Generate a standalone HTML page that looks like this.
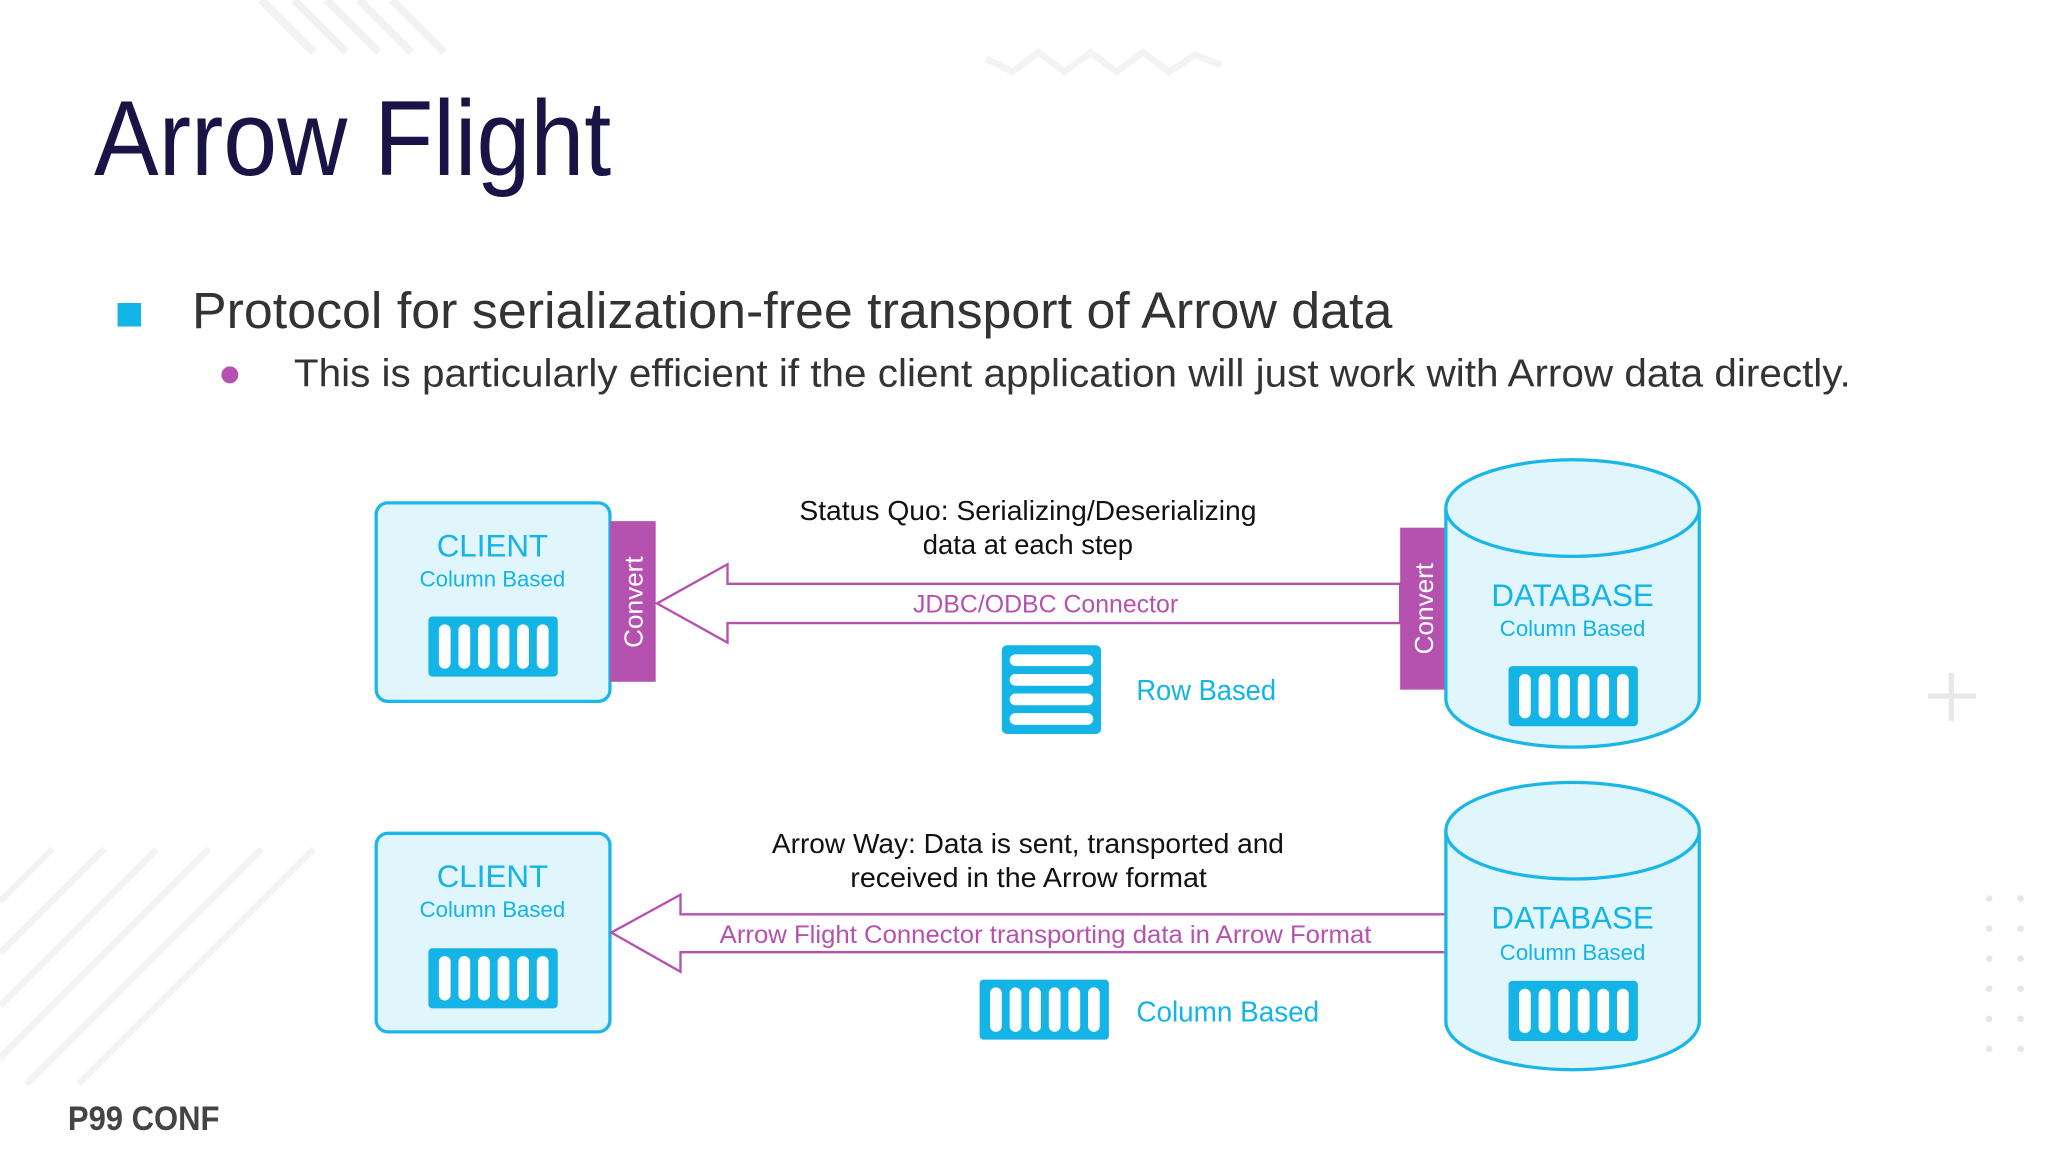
<!DOCTYPE html>
<html><head><meta charset="utf-8"><style>
html,body{margin:0;padding:0;background:#fff;}
svg{display:block;}
text{font-family:"Liberation Sans",sans-serif;}
</style></head><body>
<svg width="2048" height="1152" viewBox="0 0 1568 882" xmlns="http://www.w3.org/2000/svg">
<rect width="1568" height="882" fill="#fff"/>
<g stroke="#f2f2f2" stroke-width="6">
<line x1="200" y1="0" x2="240" y2="40"/><line x1="225" y1="0" x2="265" y2="40"/><line x1="250" y1="0" x2="290" y2="40"/><line x1="275" y1="0" x2="315" y2="40"/><line x1="300" y1="0" x2="340" y2="40"/>
</g>
<g stroke="#f3f3f3" stroke-width="5">
<line x1="0" y1="690" x2="40" y2="650"/><line x1="0" y1="730" x2="80" y2="650"/><line x1="0" y1="770" x2="120" y2="650"/><line x1="0" y1="810" x2="160" y2="650"/><line x1="20" y1="830" x2="200" y2="650"/><line x1="60" y1="830" x2="240" y2="650"/>
</g>
<polyline points="755,45 775,55 795,40 815,55 835,40 855,55 875,40 895,55 915,42 935,50" fill="none" stroke="#f3f3f3" stroke-width="5"/>
<g stroke="#e8e8e8" stroke-width="4"><line x1="1494" y1="515" x2="1494" y2="552"/><line x1="1476" y1="533" x2="1513" y2="533"/></g>
<g fill="#e6e6e6">
<circle cx="1523" cy="688" r="2.5"/><circle cx="1547" cy="688" r="2.5"/><circle cx="1523" cy="711" r="2.5"/><circle cx="1547" cy="711" r="2.5"/><circle cx="1523" cy="734" r="2.5"/><circle cx="1547" cy="734" r="2.5"/><circle cx="1523" cy="757" r="2.5"/><circle cx="1547" cy="757" r="2.5"/><circle cx="1523" cy="780" r="2.5"/><circle cx="1547" cy="780" r="2.5"/><circle cx="1523" cy="803" r="2.5"/><circle cx="1547" cy="803" r="2.5"/>
</g>

<text x="72" y="134" font-size="82" fill="#1a1446" textLength="396" lengthAdjust="spacingAndGlyphs">Arrow Flight</text>
<rect x="90" y="232" width="18" height="18" fill="#13b4e6"/>
<text x="147" y="251" font-size="39" fill="#333" textLength="919" lengthAdjust="spacingAndGlyphs">Protocol for serialization-free transport of Arrow data</text>
<circle cx="176" cy="287" r="6.5" fill="#b552b0"/>
<text x="225" y="296" font-size="30" fill="#333" textLength="1192" lengthAdjust="spacingAndGlyphs">This is particularly efficient if the client application will just work with Arrow data directly.</text>

<defs>
<g id="colicon">
<rect x="0" y="0" width="99" height="46" rx="3" fill="#14b4e6"/>
<g fill="#fff">
<rect x="8" y="6" width="9" height="34" rx="4.5"/><rect x="23" y="6" width="9" height="34" rx="4.5"/><rect x="38" y="6" width="9" height="34" rx="4.5"/><rect x="53" y="6" width="9" height="34" rx="4.5"/><rect x="68" y="6" width="9" height="34" rx="4.5"/><rect x="83" y="6" width="9" height="34" rx="4.5"/>
</g></g>
</defs>

<rect x="288" y="385" width="179" height="152" rx="9" fill="#e0f5fc" stroke="#1ab6e8" stroke-width="2.5"/>
<text x="377" y="426" font-size="24" fill="#13b4e6" text-anchor="middle">CLIENT</text>
<text x="377" y="449" font-size="17" fill="#13b4e6" text-anchor="middle">Column Based</text>
<use href="#colicon" x="328" y="472"/>
<rect x="467" y="399" width="35" height="123" fill="#b552b0"/>
<text transform="translate(492,461) rotate(-90)" font-size="20" fill="#fff" text-anchor="middle">Convert</text>

<polygon points="503,462 557,432 557,447 1072,447 1072,477 557,477 557,492" fill="#fff" stroke="#b552b0" stroke-width="1.8"/>
<text x="699" y="469" font-size="19" fill="#b552b0" textLength="203" lengthAdjust="spacingAndGlyphs">JDBC/ODBC Connector</text>
<text x="612" y="398" font-size="21" fill="#111" textLength="350" lengthAdjust="spacingAndGlyphs">Status Quo: Serializing/Deserializing</text>
<text x="787" y="424" font-size="21" fill="#111" text-anchor="middle">data at each step</text>

<rect x="767" y="494" width="76" height="68" rx="4" fill="#14b4e6"/>
<g fill="#fff"><rect x="773" y="501" width="64" height="9" rx="4.5"/><rect x="773" y="516" width="64" height="9" rx="4.5"/><rect x="773" y="531" width="64" height="9" rx="4.5"/><rect x="773" y="546" width="64" height="9" rx="4.5"/></g>
<text x="870" y="536" font-size="22" fill="#13b4e6" textLength="107" lengthAdjust="spacingAndGlyphs">Row Based</text>

<rect x="1072" y="404" width="35" height="124" fill="#b552b0"/>
<text transform="translate(1097,466) rotate(-90)" font-size="20" fill="#fff" text-anchor="middle">Convert</text>

<path d="M1107,389 L1107,535 A97,37 0 0 0 1301,535 L1301,389" fill="#e0f5fc" stroke="#1ab6e8" stroke-width="2.5"/>
<ellipse cx="1204" cy="389" rx="97" ry="37" fill="#e0f5fc" stroke="#1ab6e8" stroke-width="2.5"/>
<text x="1204" y="464" font-size="24" fill="#13b4e6" text-anchor="middle">DATABASE</text>
<text x="1204" y="487" font-size="17" fill="#13b4e6" text-anchor="middle">Column Based</text>
<use href="#colicon" x="1155" y="510"/>

<rect x="288" y="638" width="179" height="152" rx="9" fill="#e0f5fc" stroke="#1ab6e8" stroke-width="2.5"/>
<text x="377" y="679" font-size="24" fill="#13b4e6" text-anchor="middle">CLIENT</text>
<text x="377" y="702" font-size="17" fill="#13b4e6" text-anchor="middle">Column Based</text>
<use href="#colicon" x="328" y="726"/>

<polygon points="468,714 521,685 521,700 1107,700 1107,729 521,729 521,744" fill="#fff" stroke="#b552b0" stroke-width="1.8"/>
<text x="551" y="722" font-size="19" fill="#b552b0" textLength="499" lengthAdjust="spacingAndGlyphs">Arrow Flight Connector transporting data in Arrow Format</text>
<text x="591" y="653" font-size="21" fill="#111" textLength="392" lengthAdjust="spacingAndGlyphs">Arrow Way: Data is sent, transported and</text>
<text x="651" y="679" font-size="21" fill="#111" textLength="273" lengthAdjust="spacingAndGlyphs">received in the Arrow format</text>

<use href="#colicon" x="750" y="750"/>
<text x="870" y="782" font-size="22" fill="#13b4e6" textLength="140" lengthAdjust="spacingAndGlyphs">Column Based</text>

<path d="M1107,636 L1107,782 A97,37 0 0 0 1301,782 L1301,636" fill="#e0f5fc" stroke="#1ab6e8" stroke-width="2.5"/>
<ellipse cx="1204" cy="636" rx="97" ry="37" fill="#e0f5fc" stroke="#1ab6e8" stroke-width="2.5"/>
<text x="1204" y="711" font-size="24" fill="#13b4e6" text-anchor="middle">DATABASE</text>
<text x="1204" y="735" font-size="17" fill="#13b4e6" text-anchor="middle">Column Based</text>
<use href="#colicon" x="1155" y="751"/>

<text x="52" y="865" font-size="26" fill="#444" font-weight="bold" textLength="116" lengthAdjust="spacingAndGlyphs">P99 CONF</text>
</svg>
</body></html>
